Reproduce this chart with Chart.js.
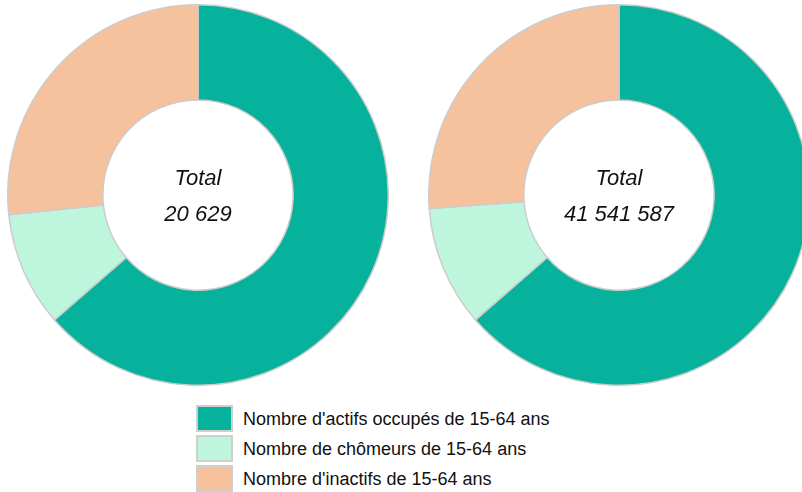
<!DOCTYPE html>
<html><head><meta charset="utf-8">
<script src="https://cdn.jsdelivr.net/npm/chart.js@4/dist/chart.umd.min.js"></script>
<style>
html,body{margin:0;padding:0;background:#fff;width:802px;height:492px;overflow:hidden;position:relative;font-family:"Liberation Sans",Arial,sans-serif;}
.c{position:absolute;}
#legend{position:absolute;left:196px;top:405px;}
.li{display:flex;align-items:center;height:30px;}
.li .bx{box-sizing:border-box;width:37px;height:27px;border:2px solid #cfcfcf;margin-right:10px;align-self:flex-start;}
.tx{font-size:18px;color:#111;line-height:27px;align-self:flex-start;padding-top:1px;}
</style></head><body>
<div class="c" style="left:7px;top:4px;width:382px;height:382px"><canvas id="c1"></canvas></div>
<div class="c" style="left:428px;top:4px;width:382px;height:382px"><canvas id="c2"></canvas></div>
<div id="legend"></div>
<script>
const categories = ["Nombre d'actifs occupés de 15-64 ans","Nombre de chômeurs de 15-64 ans","Nombre d'inactifs de 15-64 ans"];
const valuesLeft = [13120, 2010, 5499];
const valuesRight = [26420000, 4270000, 10851587];
const totalLeft = "20 629";
const totalRight = "41 541 587";
const colors = ["#07b29d","#bdf6dc","#f6c19d"];

const centerText = {
  id:'centerText',
  afterDraw(chart, args, opts){
    const a = chart.getDatasetMeta(0).data[0];
    if(!a) return;
    const ctx = chart.ctx;
    ctx.save();
    ctx.fillStyle = '#111';
    ctx.font = 'italic 22px "Liberation Sans", Arial, sans-serif';
    ctx.textAlign = 'center';
    ctx.textBaseline = 'middle';
    ctx.fillText('Total', a.x, a.y - 16);
    ctx.fillText(opts.total, a.x, a.y + 20);
    ctx.restore();
  }
};

function make(id, vals, total){
  new Chart(document.getElementById(id), {
    type:'doughnut',
    data:{labels:categories, datasets:[{data:vals, backgroundColor:colors, borderColor:'#cccccc', borderWidth:1.5}]},
    options:{
      responsive:true, maintainAspectRatio:false, animation:false,
      cutout:'50%',
      layout:{padding:0},
      plugins:{legend:{display:false}, tooltip:{enabled:false}, centerText:{total:total}}
    },
    plugins:[centerText]
  });
}
make('c1', valuesLeft, totalLeft);
make('c2', valuesRight, totalRight);

const lg = document.getElementById('legend');
categories.forEach((c,i)=>{
  const d = document.createElement('div'); d.className='li';
  const b = document.createElement('div'); b.className='bx'; b.style.background=colors[i];
  const t = document.createElement('span'); t.className='tx'; t.textContent=c;
  d.appendChild(b); d.appendChild(t); lg.appendChild(d);
});
</script>
</body></html>
